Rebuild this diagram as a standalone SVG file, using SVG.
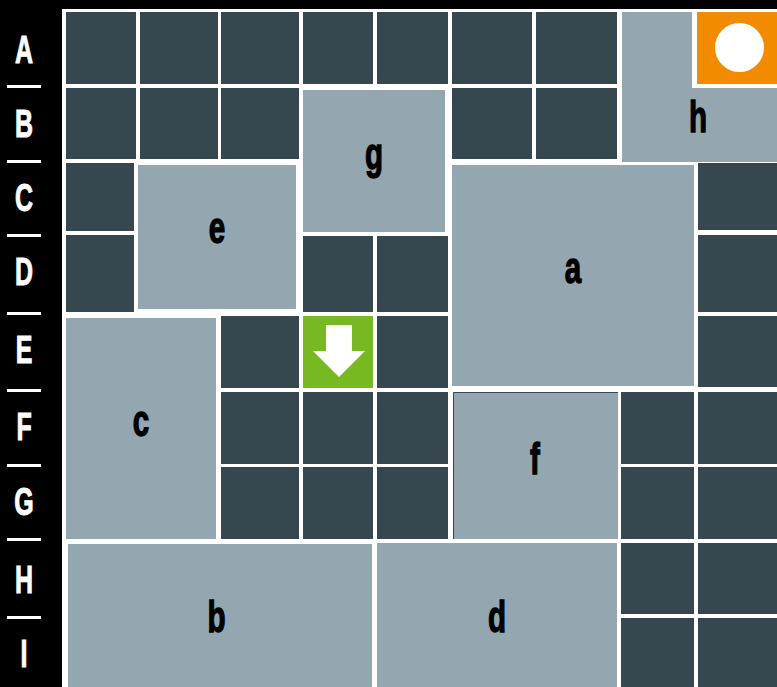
<svg xmlns="http://www.w3.org/2000/svg" width="777" height="687" viewBox="0 0 777 687">
<style>
.cell{fill:#37474F}
.blk{fill:#94A7B0}
.lbl{font-family:"Liberation Sans",Arial,sans-serif;font-weight:bold;font-size:40px;fill:#000;stroke:#000;stroke-width:1.2px;text-anchor:middle}
.rl{font-family:"Liberation Sans",Arial,sans-serif;font-weight:bold;font-size:39px;fill:#fff;stroke:#fff;stroke-width:1px;text-anchor:middle}
.sep{fill:#fff}
</style>
<rect x="0" y="0" width="777" height="687" fill="#000"/>
<g id="row-labels">
<text class="rl" transform="translate(24 63) scale(0.64 1)">A</text>
<text class="rl" transform="translate(24 137) scale(0.64 1)">B</text>
<text class="rl" transform="translate(24 211) scale(0.64 1)">C</text>
<text class="rl" transform="translate(24 285) scale(0.64 1)">D</text>
<text class="rl" transform="translate(24 363) scale(0.64 1)">E</text>
<text class="rl" transform="translate(24 440) scale(0.64 1)">F</text>
<text class="rl" transform="translate(24 515) scale(0.64 1)">G</text>
<text class="rl" transform="translate(24 593) scale(0.64 1)">H</text>
<text class="rl" transform="translate(24 667) scale(0.64 1)">I</text>
<rect class="sep" x="7" y="85" width="34" height="3"/>
<rect class="sep" x="7" y="160" width="34" height="3"/>
<rect class="sep" x="7" y="234" width="34" height="3"/>
<rect class="sep" x="7" y="312" width="34" height="3"/>
<rect class="sep" x="7" y="389" width="34" height="3"/>
<rect class="sep" x="7" y="464" width="34" height="3"/>
<rect class="sep" x="7" y="538" width="34" height="3"/>
<rect class="sep" x="7" y="616" width="34" height="3"/>
</g>
<rect x="62" y="9" width="715" height="678" fill="#fff"/>
<g id="cells">
<rect class="cell" x="66" y="12" width="70" height="72"/>
<rect class="cell" x="140" y="12" width="78" height="72"/>
<rect class="cell" x="221" y="12" width="78" height="72"/>
<rect class="cell" x="303" y="12" width="70" height="72"/>
<rect class="cell" x="377" y="12" width="71" height="72"/>
<rect class="cell" x="452" y="12" width="80" height="72"/>
<rect class="cell" x="536" y="12" width="81" height="72"/>
<rect class="cell" x="66" y="88" width="70" height="71"/>
<rect class="cell" x="140" y="88" width="78" height="71"/>
<rect class="cell" x="221" y="88" width="78" height="71"/>
<rect class="cell" x="452" y="88" width="80" height="71"/>
<rect class="cell" x="536" y="88" width="81" height="71"/>
<rect class="cell" x="66" y="163" width="68" height="68"/>
<rect class="cell" x="698" y="163" width="79" height="67"/>
<rect class="cell" x="66" y="235" width="68" height="77"/>
<rect class="cell" x="303" y="236" width="70" height="76"/>
<rect class="cell" x="377" y="236" width="71" height="76"/>
<rect class="cell" x="698" y="235" width="79" height="77"/>
<rect class="cell" x="221" y="316" width="78" height="72"/>
<rect class="cell" x="377" y="316" width="71" height="72"/>
<rect class="cell" x="698" y="316" width="79" height="71"/>
<rect class="cell" x="221" y="392" width="78" height="72"/>
<rect class="cell" x="303" y="392" width="70" height="72"/>
<rect class="cell" x="377" y="392" width="71" height="72"/>
<rect class="cell" x="621" y="392" width="73" height="72"/>
<rect class="cell" x="698" y="392" width="79" height="72"/>
<rect class="cell" x="221" y="467" width="78" height="72"/>
<rect class="cell" x="303" y="467" width="70" height="72"/>
<rect class="cell" x="377" y="467" width="71" height="72"/>
<rect class="cell" x="621" y="467" width="73" height="72"/>
<rect class="cell" x="698" y="467" width="79" height="72"/>
<rect class="cell" x="621" y="543" width="73" height="71"/>
<rect class="cell" x="698" y="543" width="79" height="71"/>
<rect class="cell" x="621" y="618" width="73" height="69"/>
<rect class="cell" x="698" y="618" width="79" height="69"/>
</g>
<g id="node-goal">
<rect x="697" y="12" width="80" height="72" fill="#F28B00"/>
<circle cx="739.5" cy="47.5" r="24.5" fill="#fff"/>
</g>
<g id="node-start">
<rect x="303" y="316" width="70" height="72" fill="#78B823"/>
<polygon points="326,325 352,325 352,351 365,351 339,377 313,351 326,351" fill="#fff"/>
</g>
<g id="node-h">
<polygon class="blk" points="622,12 692,12 692,88 777,88 777,162 622,162"/>
<text class="lbl" transform="translate(698 132) scale(0.74 1.1)">h</text>
</g>
<g id="node-g">
<rect class="blk" x="303" y="90" width="142" height="142"/>
<text class="lbl" transform="translate(374 169) scale(0.74 1.1)">g</text>
</g>
<g id="node-e">
<rect class="blk" x="138" y="165" width="158" height="144"/>
<text class="lbl" transform="translate(217 243) scale(0.74 1.1)">e</text>
</g>
<g id="node-a">
<rect class="blk" x="452" y="165" width="242" height="221"/>
<text class="lbl" transform="translate(573 283) scale(0.74 1.1)">a</text>
</g>
<g id="node-c">
<rect class="blk" x="66" y="318" width="150" height="221"/>
<text class="lbl" transform="translate(141 436) scale(0.74 1.1)">c</text>
</g>
<g id="node-f">
<rect class="blk" x="453" y="392" width="165" height="147"/>
<path d="M453.5,539 V392.5 H618" fill="none" stroke="#37474F" stroke-width="1"/>
<text class="lbl" transform="translate(535 474) scale(0.74 1.1)">f</text>
</g>
<g id="node-b">
<rect class="blk" x="68" y="544" width="304" height="143"/>
<text class="lbl" transform="translate(216.5 632) scale(0.74 1.1)">b</text>
</g>
<g id="node-d">
<rect class="blk" x="377" y="543" width="240" height="144"/>
<text class="lbl" transform="translate(497 632) scale(0.74 1.1)">d</text>
</g>
<g id="connectors"/>
</svg>
